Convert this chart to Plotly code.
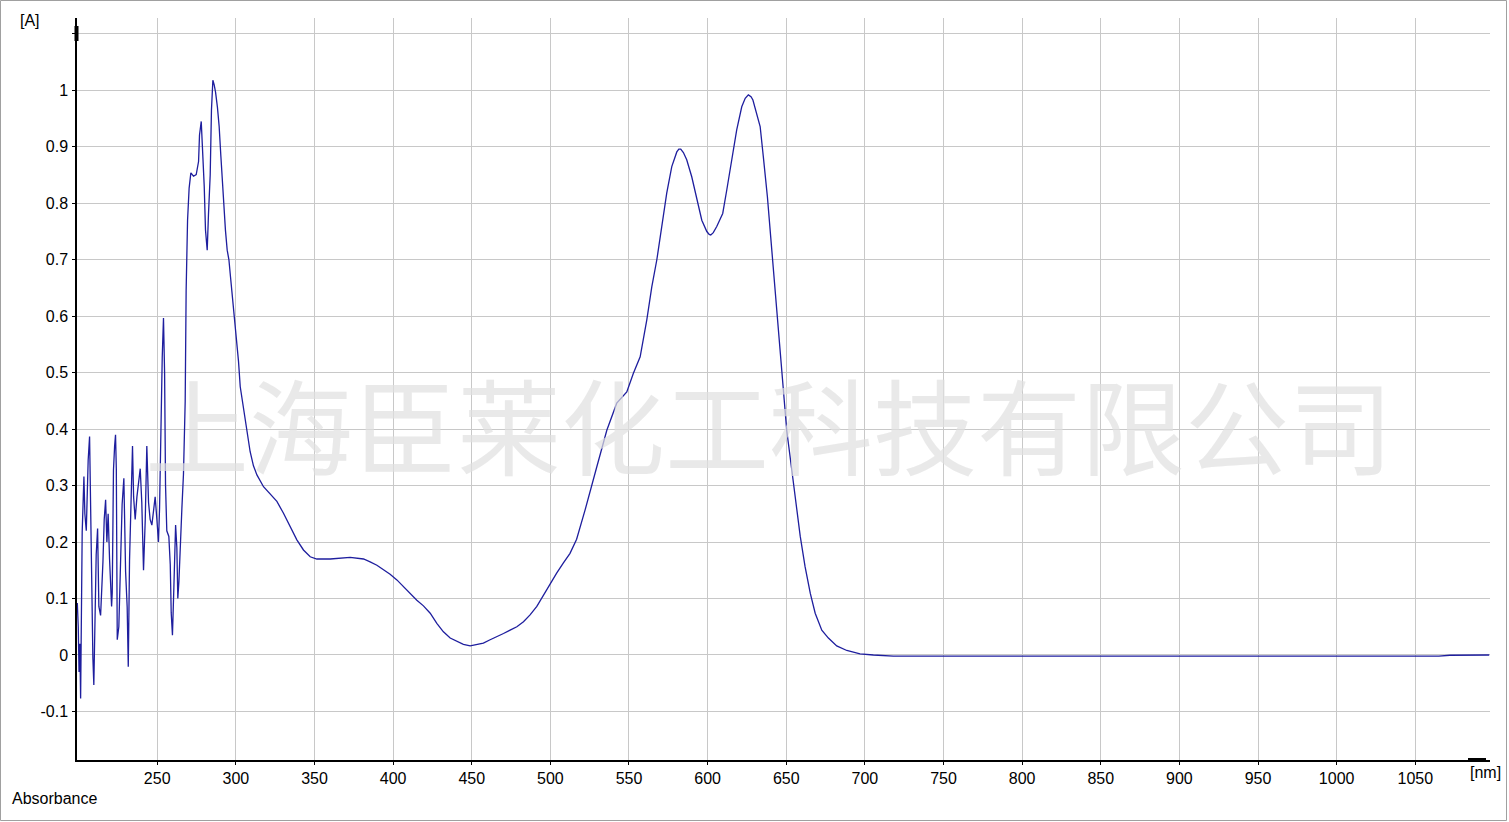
import plotly.graph_objects as go

# Absorbance spectrum
wavelength_nm = [
    199.2, 199.8, 200.3, 200.8, 201.3, 202.3, 203.4, 204.0, 204.9, 205.5,
    206.1, 207.0, 207.6, 208.3, 209.1, 209.7, 210.4, 211.2, 212.1, 212.9,
    214.0, 214.6, 215.5, 216.3, 217.2, 218.0, 218.8, 219.7, 221.0, 221.4,
    222.2, 222.9, 223.5, 224.0, 224.6, 225.6, 226.7, 227.7, 228.8, 229.9,
    230.9, 231.6, 232.4, 233.3, 234.3, 235.0, 236.0, 237.1, 238.1, 239.2,
    240.2, 241.3, 242.4, 243.4, 244.5, 245.5, 246.6, 247.7, 248.7, 249.8,
    250.8, 251.5, 252.3, 253.2, 254.0, 254.7, 255.3, 256.1, 257.4, 258.3,
    258.9, 259.7, 260.6, 261.7, 262.5, 263.1, 263.8, 264.6, 265.7, 266.7,
    267.8, 268.4, 269.3, 270.3, 271.4, 273.1, 274.8, 276.3, 276.9, 278.0,
    278.8, 279.9, 280.7, 281.8, 282.6, 283.7, 284.5, 285.4, 286.2, 287.1,
    288.3, 289.4, 290.5, 291.5, 292.4, 293.4, 294.5, 295.6, 296.6, 297.7,
    298.8, 299.6, 300.7, 301.7, 302.8, 304.9, 307.0, 309.1, 311.2, 313.4,
    317.6, 321.8, 326.1, 330.3, 334.6, 338.8, 343.0, 347.3, 351.5, 360.0,
    372.7, 381.2, 385.4, 389.7, 393.9, 398.1, 402.4, 406.6, 410.8, 415.1,
    419.3, 423.6, 427.8, 432.0, 436.3, 440.5, 444.7, 449.0, 453.2, 457.4,
    461.7, 465.9, 470.2, 474.4, 478.7, 482.9, 487.1, 491.4, 495.6, 499.8,
    504.0, 508.3, 512.5, 516.7, 520.0, 522.1, 529.5, 535.9, 542.2, 548.6,
    552.8, 557.1, 561.3, 564.5, 567.7, 570.9, 574.0, 577.2, 580.4, 581.7,
    582.9, 584.6, 586.7, 589.9, 593.1, 596.3, 599.5, 601.0, 602.0, 603.6,
    605.8, 609.6, 612.2, 615.4, 618.5, 621.7, 623.9, 625.9, 627.6, 628.8,
    630.2, 633.4, 635.4, 638.0, 640.1, 641.8, 644.0, 646.1, 647.5, 650.3,
    653.5, 655.6, 658.9, 662.0, 665.3, 668.4, 672.6, 676.8, 682.1, 688.5,
    696.9, 705.4, 718.1, 800.0, 900.0, 1000.0, 1040.0, 1055.0, 1065.0, 1072.0,
    1080.0, 1097.0,
]
absorbance = [
    0.092, 0.050, -0.030, 0.020, -0.077, 0.218, 0.316, 0.250, 0.220, 0.290,
    0.345, 0.387, 0.275, 0.060, -0.005, -0.053, 0.100, 0.177, 0.224, 0.086,
    0.070, 0.100, 0.165, 0.240, 0.275, 0.200, 0.250, 0.170, 0.086, 0.110,
    0.328, 0.369, 0.390, 0.330, 0.027, 0.050, 0.163, 0.267, 0.313, 0.148,
    0.085, -0.021, 0.168, 0.270, 0.370, 0.280, 0.240, 0.280, 0.300, 0.330,
    0.270, 0.150, 0.240, 0.370, 0.270, 0.240, 0.230, 0.260, 0.280, 0.240,
    0.200, 0.260, 0.400, 0.528, 0.597, 0.500, 0.300, 0.220, 0.210, 0.160,
    0.075, 0.035, 0.120, 0.230, 0.190, 0.100, 0.130, 0.200, 0.260, 0.320,
    0.450, 0.646, 0.770, 0.827, 0.854, 0.848, 0.851, 0.874, 0.921, 0.945,
    0.900, 0.830, 0.753, 0.717, 0.780, 0.850, 0.965, 1.018, 1.010, 0.997,
    0.970, 0.936, 0.883, 0.830, 0.788, 0.752, 0.717, 0.700, 0.670, 0.640,
    0.610, 0.590, 0.556, 0.520, 0.475, 0.434, 0.396, 0.360, 0.335, 0.319,
    0.298, 0.286, 0.272, 0.251, 0.227, 0.204, 0.186, 0.174, 0.170, 0.170,
    0.173, 0.170, 0.165, 0.159, 0.151, 0.143, 0.133, 0.121, 0.109, 0.097,
    0.087, 0.074, 0.056, 0.041, 0.030, 0.024, 0.019, 0.016, 0.018, 0.021,
    0.027, 0.032, 0.038, 0.044, 0.050, 0.059, 0.071, 0.086, 0.106, 0.127,
    0.145, 0.163, 0.180, 0.205, 0.235, 0.257, 0.333, 0.398, 0.446, 0.466,
    0.499, 0.528, 0.593, 0.652, 0.700, 0.759, 0.818, 0.865, 0.891, 0.896,
    0.896, 0.890, 0.877, 0.847, 0.806, 0.770, 0.750, 0.745, 0.744, 0.748,
    0.759, 0.782, 0.824, 0.877, 0.930, 0.971, 0.986, 0.992, 0.989, 0.983,
    0.970, 0.936, 0.883, 0.812, 0.741, 0.682, 0.605, 0.534, 0.487, 0.398,
    0.328, 0.280, 0.210, 0.156, 0.109, 0.074, 0.044, 0.030, 0.016, 0.008,
    0.002, 0.000, -0.002, -0.002, -0.002, -0.002, -0.002, -0.003, -0.002, -0.0005,
    0.000, 0.000,
]

x_ticks = list(range(250, 1051, 50))
y_ticks = [-0.1, 0, 0.1, 0.2, 0.3, 0.4, 0.5, 0.6, 0.7, 0.8, 0.9, 1, 1.1]
y_labels = ['-0.1', '0', '0.1', '0.2', '0.3', '0.4', '0.5', '0.6', '0.7', '0.8', '0.9', '1', '']

watermark = '上海臣莱化工科技有限公司'

tick_font = dict(family='Liberation Sans, Arial, sans-serif', size=16, color='#000000')

fig = go.Figure()

fig.add_trace(go.Scatter(
    x=wavelength_nm,
    y=absorbance,
    mode='lines',
    line=dict(color='#1e1e9e', width=1.3),
    showlegend=False,
    hoverinfo='skip'
))

# watermark across the plot
fig.add_annotation(
    text=watermark, xref='paper', yref='paper', x=0.49, y=0.455,
    showarrow=False,
    font=dict(family='Noto Sans CJK SC', size=104, color='rgba(224,224,224,0.7)')
)

# axis captions
fig.add_annotation(text='[A]', xref='paper', yref='paper', x=-0.033, y=0.997,
                   xanchor='center', yanchor='middle', showarrow=False, font=tick_font)
fig.add_annotation(text='[nm]', xref='paper', yref='paper', x=0.9965, y=-0.017,
                   xanchor='center', yanchor='middle', showarrow=False, font=tick_font)
fig.add_annotation(text='Absorbance', xref='paper', yref='paper', x=-0.0475, y=-0.0515,
                   xanchor='left', yanchor='middle', showarrow=False, font=tick_font)

# little arrow heads at the axis ends
fig.add_shape(type='rect', xref='paper', yref='paper',
              xsizemode='pixel', ysizemode='pixel', xanchor=0, yanchor=1,
              x0=-2.5, x1=1.5, y0=-23, y1=-8,
              fillcolor='black', line=dict(width=0))
fig.add_shape(type='rect', xref='paper', yref='paper',
              xsizemode='pixel', ysizemode='pixel', xanchor=1, yanchor=0,
              x0=-22, x1=-4, y0=-2, y1=2,
              fillcolor='black', line=dict(width=0))

# grey frame round the whole picture
fig.add_shape(type='rect', xref='paper', yref='paper',
              xsizemode='pixel', ysizemode='pixel', xanchor=0, yanchor=0,
              x0=-76.5, x1=1429.5, y0=-60.5, y1=759.5,
              line=dict(color='#a0a0a0', width=1), fillcolor='rgba(0,0,0,0)')

fig.update_layout(
    width=1509,
    height=822,
    margin=dict(l=77, r=19, t=18, b=62),
    plot_bgcolor='#ffffff',
    paper_bgcolor='#ffffff',
    font=tick_font,
    xaxis=dict(
        range=[199, 1097.5],
        tickvals=x_ticks,
        ticks='outside', ticklen=3, tickcolor='#000000',
        showgrid=True, gridcolor='#c8c8c8', gridwidth=1,
        showline=True, linecolor='#000000', linewidth=1.5,
        zeroline=False, tickfont=tick_font
    ),
    yaxis=dict(
        range=[-0.186, 1.1282],
        tickvals=y_ticks, ticktext=y_labels,
        ticks='outside', ticklen=3, tickcolor='#000000',
        showgrid=True, gridcolor='#c8c8c8', gridwidth=1,
        showline=True, linecolor='#000000', linewidth=1.5,
        zeroline=False, tickfont=tick_font, ticklabelstandoff=1
    ),
)

# page body has a default margin; drop it so the chart sits at the top-left corner
fig.write_html("out.html", config={'displayModeBar': False},
               post_script="document.body.style.margin='0';document.body.style.overflow='hidden';")
